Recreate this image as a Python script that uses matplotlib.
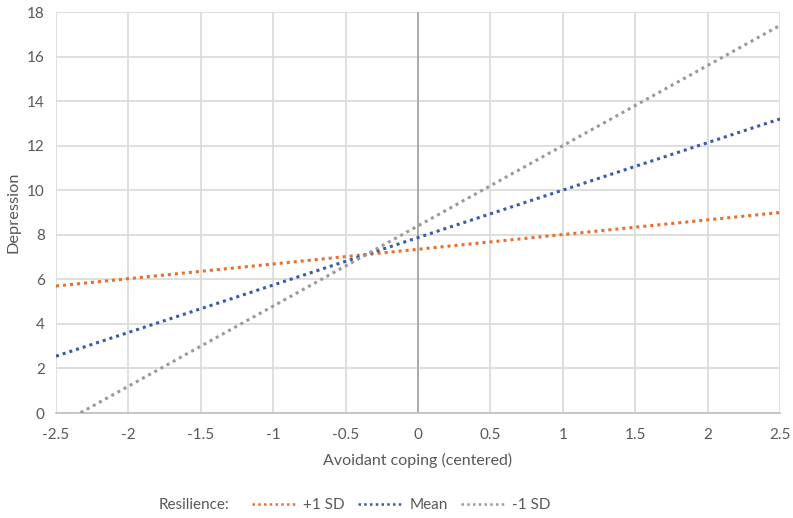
import matplotlib
matplotlib.use("Agg")
import matplotlib.pyplot as plt

plt.rcParams['font.family'] = ['Lato', 'DejaVu Sans']

x_vals = [-2.5, 2.5]
plus_sd = [5.7, 9.0]
mean_vals = [2.55, 13.2]
minus_sd = [-0.6, 17.4]
series_names = ['+1 SD', 'Mean', '-1 SD']
colors = ['#E8702A', '#3A5BA8', '#9A9A9A']
xticks = [-2.5, -2, -1.5, -1, -0.5, 0, 0.5, 1, 1.5, 2, 2.5]
xticklabels = ['-2.5', '-2', '-1.5', '-1', '-0.5', '0', '0.5', '1', '1.5', '2', '2.5']
yticks = [0, 2, 4, 6, 8, 10, 12, 14, 16, 18]

fig = plt.figure(figsize=(7.93, 5.18), dpi=100)
ax = fig.add_axes([0.0706, 0.2027, 0.913, 0.7741])

txt = '#595959'
ax.set_xlim(-2.5, 2.5)
ax.set_ylim(0, 18)
ax.set_xticks(xticks)
ax.set_xticklabels(xticklabels)
ax.set_yticks(yticks)
ax.grid(True, color='#D9D9D9', lw=1.2)
ax.set_axisbelow(True)
for s in ['top', 'right', 'left']:
    ax.spines[s].set_visible(False)
ax.spines['bottom'].set_color('#BFBFBF')
ax.spines['bottom'].set_linewidth(1.2)
ax.axvline(0, color='#A6A6A6', lw=1.3, zorder=1)
ax.tick_params(length=0, labelsize=11, labelcolor=txt, pad=8)
ax.tick_params(axis='x', pad=11)

lines = []
for ys, c, n in zip([plus_sd, mean_vals, minus_sd], colors, series_names):
    l, = ax.plot(x_vals, ys, color=c, lw=2.2, linestyle=(0, (1, 1.3)), label=n, zorder=3)
    lines.append(l)

ax.set_xlabel('Avoidant coping (centered)', fontsize=11.5, color=txt, labelpad=8)
ax.set_ylabel('Depression', fontsize=11.8, color=txt, labelpad=5)

fig.text(0.2, 0.025, 'Resilience:', fontsize=11, color=txt, va='center')
leg = fig.legend(handles=lines, loc='center left', bbox_to_anchor=(0.318, 0.025),
                 ncol=3, frameon=False, fontsize=11, handlelength=2.9,
                 columnspacing=0.85, handletextpad=0.45, borderpad=0, borderaxespad=0)
for t in leg.get_texts():
    t.set_color(txt)
for h in leg.legend_handles:
    h.set_linewidth(1.8)

fig.savefig('out.png', dpi=100)
